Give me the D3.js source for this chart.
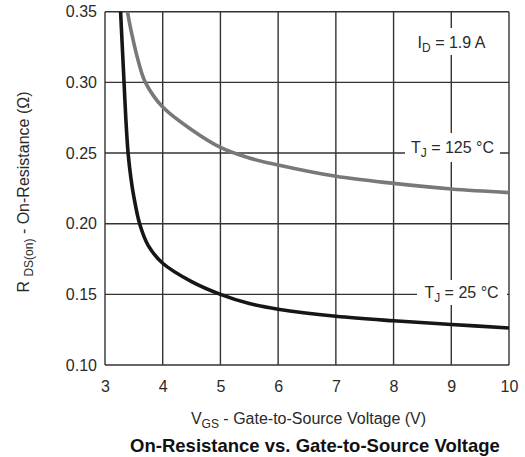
<!DOCTYPE html>
<html>
<head>
<meta charset="utf-8">
<script src="https://cdn.jsdelivr.net/npm/d3@7"></script>
<style>
  html, body { margin: 0; padding: 0; background: #fff; }
  svg { display: block; font-family: "Liberation Sans", Arial, Helvetica, sans-serif; }
</style>
</head>
<body>
<svg id="chart" width="525" height="457"></svg>
<script>
// Gate-to-source voltage ticks and resistance ticks
const xTicks = [3, 4, 5, 6, 7, 8, 9, 10];
const yTicks = [0.10, 0.15, 0.20, 0.25, 0.30, 0.35];

// R_DS(on) vs V_GS at T_J = 25 °C
const vgs25 = [3.25, 3.27, 3.30, 3.33, 3.36, 3.40, 3.45, 3.5, 3.6, 3.75, 4.0, 4.5, 5.0, 5.5, 6.0, 7.0, 8.0, 9.0, 10.0];
const rds25 = [0.367, 0.35, 0.325, 0.30, 0.275, 0.25, 0.232, 0.219, 0.20, 0.1845, 0.172, 0.159, 0.150, 0.1435, 0.1395, 0.1345, 0.1313, 0.1287, 0.1262];

// R_DS(on) vs V_GS at T_J = 125 °C
const vgs125 = [3.37, 3.39, 3.45, 3.58, 3.70, 4.0, 4.5, 5.0, 5.5, 6.0, 7.0, 8.0, 9.0, 10.0];
const rds125 = [0.356, 0.35, 0.337, 0.3146, 0.300, 0.2825, 0.2665, 0.254, 0.2465, 0.2415, 0.2335, 0.2285, 0.2245, 0.222];

const svg = d3.select("#chart");
const x = d3.scaleLinear().domain([3, 10]).range([105, 509]);
const y = d3.scaleLinear().domain([0.10, 0.35]).range([365, 11.7]);

const gridColor = "#333";
const textColor = "#2a2a2a";

// Grid lines
const grid = svg.append("g");
grid.selectAll("line.v").data(xTicks).join("line")
  .attr("x1", d => x(d)).attr("x2", d => x(d))
  .attr("y1", y(0.35)).attr("y2", y(0.10))
  .attr("stroke", gridColor).attr("stroke-width", 1.4);
grid.selectAll("line.h").data(yTicks).join("line")
  .attr("x1", x(3)).attr("x2", x(10))
  .attr("y1", d => y(d)).attr("y2", d => y(d))
  .attr("stroke", gridColor).attr("stroke-width", 1.4);

// Curves, clipped to the plot frame
svg.append("clipPath").attr("id", "plotClip").append("rect")
  .attr("x", x(3)).attr("y", y(0.35)).attr("width", x(10) - x(3)).attr("height", y(0.10) - y(0.35));

const line = d3.line().x(d => x(d[0])).y(d => y(d[1])).curve(d3.curveCatmullRom.alpha(0.5));
const curves = svg.append("g").attr("clip-path", "url(#plotClip)");
curves.append("path")
  .datum(d3.zip(vgs125, rds125))
  .attr("d", line).attr("fill", "none")
  .attr("stroke", "#787878").attr("stroke-width", 3.6).attr("stroke-linejoin", "round");
curves.append("path")
  .datum(d3.zip(vgs25, rds25))
  .attr("d", line).attr("fill", "none")
  .attr("stroke", "#161616").attr("stroke-width", 3.6).attr("stroke-linejoin", "round");

// Axis tick labels
const xAxis = d3.axisBottom(x).tickValues(xTicks).tickSize(0).tickPadding(0).tickFormat(d3.format("d"));
const gx = svg.append("g").attr("transform", `translate(0,${y(0.10) + 16})`).call(xAxis);
gx.select(".domain").remove();
gx.selectAll("text").attr("font-size", 16).attr("fill", textColor)
  .attr("font-family", "Liberation Sans, Arial, sans-serif").attr("dy", "0.71em");

const yAxis = d3.axisLeft(y).tickValues(yTicks).tickSize(0).tickPadding(8).tickFormat(d3.format(".2f"));
const gy = svg.append("g").attr("transform", `translate(${x(3)},0)`).call(yAxis);
gy.select(".domain").remove();
gy.selectAll("text").attr("font-size", 16).attr("fill", textColor)
  .attr("font-family", "Liberation Sans, Arial, sans-serif");

// Annotations with white backing boxes
function annotate(cx, baseline, main, sub, rest, box) {
  const g = svg.append("g");
  g.append("rect").attr("fill", "#fff")
    .attr("x", box[0]).attr("y", box[1]).attr("width", box[2] - box[0]).attr("height", box[3] - box[1]);
  const t = g.append("text").attr("x", cx).attr("y", baseline)
    .attr("text-anchor", "middle").attr("font-size", 16).attr("fill", textColor);
  t.append("tspan").text(main);
  t.append("tspan").attr("font-size", 12).attr("dy", 4).text(sub);
  t.append("tspan").attr("dy", -4).text(rest);
}
annotate(451.5, 48.3, "I", "D", " = 1.9 A", [412, 28, 492, 55]);
annotate(452.5, y(0.25), "T", "J", " = 125 °C", [405, 133, 500, 162]);
annotate(461.5, y(0.15) + 4, "T", "J", " = 25 °C", [417, 280, 507, 305]);

// Axis titles
const xl = svg.append("text").attr("x", 308.5).attr("y", 424)
  .attr("text-anchor", "middle").attr("font-size", 16).attr("fill", textColor);
xl.append("tspan").text("V");
xl.append("tspan").attr("font-size", 12).attr("dy", 4).text("GS");
xl.append("tspan").attr("dy", -4).text(" - Gate-to-Source Voltage (V)");

const yl = svg.append("text").attr("transform", "translate(28.5,192) rotate(-90)")
  .attr("text-anchor", "middle").attr("font-size", 16).attr("fill", textColor);
yl.append("tspan").text("R ");
yl.append("tspan").attr("font-size", 12).attr("dy", 4).text("DS(on)");
yl.append("tspan").attr("dy", -4).text(" - On-Resistance (Ω)");

// Chart title
svg.append("text").attr("x", 315).attr("y", 452)
  .attr("text-anchor", "middle").attr("font-size", 18.5).attr("font-weight", "bold")
  .attr("fill", "#111").text("On-Resistance vs. Gate-to-Source Voltage");
</script>
</body>
</html>
